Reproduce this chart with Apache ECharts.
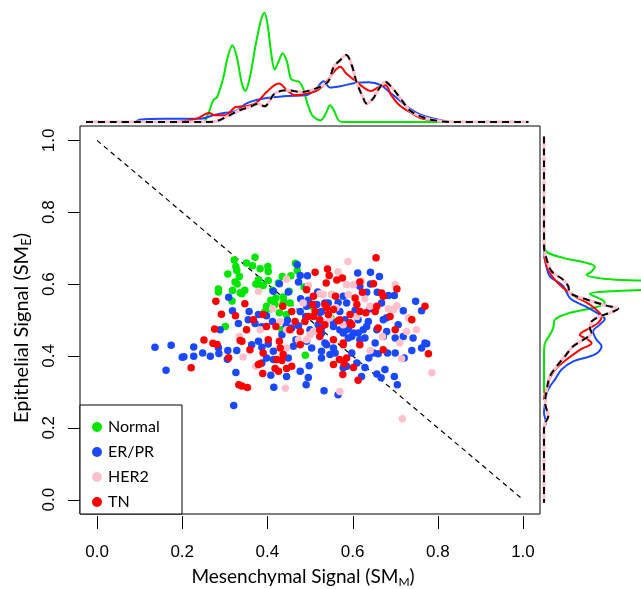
<!DOCTYPE html>
<html><head><meta charset="utf-8">
<script src="https://cdn.jsdelivr.net/npm/echarts@6/dist/echarts.min.js"></script>
<style>html,body{margin:0;padding:0;background:#fff}#c{width:641px;height:589px}</style>
</head><body><div id="c"></div>
<script>
const categories = ['Normal', 'ER/PR', 'HER2', 'TN'];
const colors = ['#00e600', '#1a48ff', '#ffc0cb', '#ff0000'];
const xTicks = [0, 0.2, 0.4, 0.6, 0.8, 1.0];
const yTicks = [0, 0.2, 0.4, 0.6, 0.8, 1.0];
const diagLine = [[0, 1], [1, 0]];

const normalPts = [[0.371,0.675],[0.322,0.667],[0.351,0.659],[0.365,0.651],[0.383,0.643],[0.401,0.649],[0.402,0.635],[0.326,0.649],[0.328,0.638],[0.307,0.628],[0.334,0.621],[0.435,0.621],[0.455,0.623],[0.466,0.658],[0.470,0.638],[0.324,0.606],[0.329,0.600],[0.379,0.612],[0.373,0.600],[0.381,0.596],[0.390,0.596],[0.402,0.610],[0.426,0.603],[0.285,0.586],[0.285,0.578],[0.318,0.582],[0.347,0.583],[0.340,0.573],[0.336,0.576],[0.412,0.583],[0.451,0.580],[0.437,0.564],[0.420,0.561],[0.317,0.553],[0.408,0.555],[0.398,0.538],[0.418,0.543],[0.437,0.547],[0.453,0.547],[0.408,0.531],[0.394,0.524],[0.428,0.520],[0.445,0.515],[0.301,0.482],[0.434,0.473],[0.489,0.402],[0.551,0.571],[0.549,0.506],[0.486,0.592],[0.504,0.538]];

const erprPts = [[0.136,0.424],[0.174,0.430],[0.162,0.360],[0.200,0.396],[0.204,0.398],[0.227,0.425],[0.227,0.399],[0.248,0.408],[0.266,0.399],[0.285,0.423],[0.286,0.407],[0.307,0.415],[0.306,0.391],[0.328,0.415],[0.326,0.354],[0.321,0.262],[0.289,0.473],[0.309,0.563],[0.318,0.526],[0.332,0.490],
[0.477,0.624],[0.494,0.623],[0.428,0.601],[0.473,0.606],[0.414,0.580],[0.449,0.578],[0.492,0.589],[0.518,0.578],[0.478,0.559],[0.496,0.555],[0.516,0.543],[0.357,0.524],[0.379,0.515],[0.398,0.512],[0.412,0.496],[0.447,0.499],[0.477,0.524],[0.490,0.510],[0.527,0.524],[0.543,0.547],[0.566,0.549],[0.570,0.524],[0.582,0.501],[0.355,0.501],[0.371,0.490],[0.387,0.481],[0.444,0.485],[0.457,0.478],[0.473,0.484],[0.519,0.487],[0.555,0.482],[0.570,0.473],[0.578,0.464],[0.500,0.473],[0.527,0.478],[0.470,0.654],
[0.612,0.631],[0.642,0.633],[0.663,0.621],[0.617,0.594],[0.633,0.577],[0.658,0.577],[0.684,0.568],[0.698,0.568],[0.586,0.547],[0.668,0.547],[0.748,0.552],[0.719,0.526],[0.762,0.526],[0.606,0.527],[0.641,0.531],[0.672,0.501],[0.680,0.506],[0.637,0.496],[0.613,0.501],[0.590,0.478],[0.625,0.473],[0.707,0.487],[0.680,0.468],[0.602,0.464],
[0.363,0.431],[0.379,0.441],[0.387,0.424],[0.402,0.433],[0.414,0.413],[0.398,0.394],[0.414,0.390],[0.387,0.380],[0.449,0.394],[0.445,0.343],[0.477,0.357],[0.498,0.373],[0.496,0.340],[0.491,0.320],[0.408,0.346],[0.415,0.313],[0.533,0.303],[0.566,0.292],[0.461,0.427],[0.492,0.441],[0.504,0.422],[0.527,0.413],[0.527,0.394],[0.547,0.404],[0.559,0.408],[0.578,0.367],[0.539,0.431],
[0.598,0.454],[0.617,0.445],[0.629,0.450],[0.653,0.436],[0.700,0.450],[0.719,0.454],[0.742,0.450],[0.770,0.436],[0.762,0.422],[0.739,0.415],[0.700,0.408],[0.682,0.408],[0.660,0.406],[0.649,0.408],[0.638,0.394],[0.721,0.394],[0.598,0.408],[0.610,0.380],[0.629,0.368],[0.586,0.371],[0.676,0.362],[0.657,0.350],[0.667,0.339],[0.698,0.343],[0.705,0.320],[0.621,0.343],[0.590,0.450],[0.774,0.434],
[0.642,0.600],[0.578,0.566],[0.535,0.547],[0.527,0.464],[0.535,0.436],[0.555,0.422],
[0.492,0.538],[0.523,0.520],[0.555,0.492],[0.586,0.473],[0.613,0.464],[0.633,0.482],[0.657,0.473],[0.672,0.454],[0.467,0.445],[0.434,0.459]];

const her2Pts = [[0.343,0.397],[0.373,0.371],[0.442,0.310],[0.334,0.454],[0.566,0.634],[0.445,0.614],[0.496,0.596],[0.523,0.573],[0.531,0.571],[0.551,0.571],[0.484,0.547],[0.561,0.534],[0.379,0.580],[0.412,0.531],[0.430,0.496],[0.445,0.473],[0.383,0.473],[0.547,0.506],[0.578,0.487],
[0.589,0.663],[0.586,0.598],[0.602,0.598],[0.621,0.608],[0.700,0.598],[0.704,0.540],[0.684,0.531],[0.590,0.571],[0.731,0.506],[0.750,0.473],[0.727,0.468],[0.629,0.559],
[0.473,0.445],[0.570,0.301],[0.445,0.422],[0.641,0.415],[0.715,0.392],[0.711,0.436],[0.786,0.353],[0.717,0.225],[0.670,0.454],[0.696,0.529],[0.508,0.468],[0.492,0.445],
[0.535,0.492],[0.610,0.510],[0.641,0.538],[0.500,0.459]];

const tnPts = [[0.279,0.552],[0.292,0.516],[0.325,0.512],[0.276,0.475],[0.251,0.444],[0.272,0.435],[0.282,0.432],[0.221,0.367],[0.309,0.395],[0.333,0.320],[0.340,0.316],[0.353,0.312],[0.389,0.351],[0.383,0.378],[0.336,0.443],
[0.512,0.633],[0.541,0.642],[0.545,0.624],[0.538,0.603],[0.563,0.611],[0.347,0.545],[0.367,0.501],[0.390,0.515],[0.436,0.538],[0.457,0.524],[0.496,0.510],[0.512,0.524],[0.523,0.501],[0.535,0.543],[0.543,0.515],[0.555,0.529],[0.351,0.473],[0.398,0.482],[0.420,0.482],[0.465,0.496],[0.488,0.496],[0.508,0.566],[0.506,0.543],[0.535,0.487],[0.477,0.468],[0.566,0.498],
[0.655,0.673],[0.623,0.577],[0.668,0.575],[0.672,0.566],[0.704,0.586],[0.770,0.538],[0.739,0.501],[0.653,0.524],[0.610,0.543],[0.617,0.524],[0.631,0.520],[0.594,0.515],[0.660,0.478],[0.688,0.510],[0.700,0.473],[0.598,0.487],[0.649,0.601],
[0.340,0.441],[0.359,0.417],[0.402,0.445],[0.428,0.441],[0.430,0.422],[0.390,0.408],[0.437,0.404],[0.422,0.390],[0.434,0.387],[0.379,0.376],[0.418,0.365],[0.426,0.357],[0.445,0.365],[0.457,0.371],[0.523,0.454],[0.569,0.390],[0.580,0.378],[0.555,0.376],
[0.617,0.431],[0.672,0.417],[0.778,0.406],[0.602,0.368],[0.613,0.332],[0.586,0.394],
[0.576,0.617],[0.617,0.606],[0.606,0.561],[0.657,0.538],[0.578,0.431],[0.577,0.348],[0.492,0.584],[0.539,0.534],[0.560,0.566],
[0.508,0.510],[0.570,0.501],[0.594,0.492],[0.555,0.445],[0.578,0.436],[0.523,0.473],[0.477,0.431],[0.453,0.473]];

// marginal density of SM_M (top): [SM_M, density]
const topNormal = [[0.253,0],[0.263,0.66],[0.273,1.43],[0.282,1.64],[0.297,2.96],[0.306,4.17],[0.318,5.04],[0.328,4.28],[0.340,2.52],[0.348,2.04],[0.359,2.96],[0.373,5.15],[0.385,6.69],[0.393,7.17],[0.400,6.47],[0.409,4.50],[0.417,3.44],[0.426,3.95],[0.436,4.50],[0.446,3.95],[0.455,2.85],[0.465,2.70],[0.475,2.63],[0.484,2.19],[0.494,1.21],[0.505,0.44],[0.518,0.15],[0.525,0.11],[0.537,0.55],[0.547,1.10],[0.556,0.77],[0.566,0.15],[0.576,0],[0.821,0]];
const topERPR = [[0.090,0],[0.100,0.15],[0.157,0.22],[0.244,0.22],[0.273,0.44],[0.297,0.59],[0.326,0.72],[0.350,1.21],[0.388,1.52],[0.446,1.71],[0.489,1.75],[0.513,2.13],[0.532,2.67],[0.547,2.26],[0.571,2.35],[0.609,2.57],[0.638,2.61],[0.667,2.41],[0.686,1.97],[0.710,1.43],[0.734,0.88],[0.763,0.44],[0.792,0.22],[0.821,0.04],[0.830,0]];
const topHER2 = [[-0.026,0],[0.253,0],[0.282,0.07],[0.311,0.44],[0.335,0.77],[0.359,0.99],[0.378,1.2],[0.393,1.03],[0.417,1.86],[0.446,2.08],[0.479,1.97],[0.513,2.19],[0.542,2.63],[0.556,3.62],[0.571,4.06],[0.585,4.39],[0.598,3.73],[0.609,2.63],[0.624,1.64],[0.633,1.21],[0.648,1.54],[0.662,2.19],[0.677,2.63],[0.691,2.30],[0.710,1.64],[0.734,0.77],[0.763,0.33],[0.792,0.11],[0.830,0],[1.013,0]];
const topTN = [[0.186,0],[0.234,0.22],[0.263,0.59],[0.277,0.44],[0.301,0.44],[0.326,0.99],[0.350,1.03],[0.374,1.25],[0.398,1.97],[0.427,2.52],[0.446,2.08],[0.465,1.75],[0.489,1.86],[0.518,2.08],[0.542,2.74],[0.556,3.29],[0.571,3.62],[0.585,3.18],[0.605,2.74],[0.624,2.30],[0.643,2.04],[0.662,2.30],[0.677,2.41],[0.691,1.75],[0.710,1.10],[0.734,0.66],[0.763,0.22],[0.802,0.07],[0.830,0]];

// marginal density of SM_E (right): [SM_E, density]
const rightNormal = [[0.75,0],[0.696,0.07],[0.673,1.27],[0.659,2.81],[0.648,3.36],[0.635,3.14],[0.626,2.81],[0.614,4.12],[0.605,7.0],[0.589,7.0],[0.580,4.34],[0.573,3.03],[0.557,3.80],[0.549,4.01],[0.536,3.47],[0.520,1.71],[0.501,0.72],[0.478,0.61],[0.459,0.39],[0.436,0.07],[0.408,0],[0.297,0]];
const rightERPR = [[0.691,0],[0.668,0.07],[0.645,0.18],[0.621,0.39],[0.608,0.84],[0.594,1.27],[0.561,1.71],[0.547,2.26],[0.534,2.91],[0.515,3.68],[0.503,4.01],[0.487,3.68],[0.468,3.24],[0.445,3.47],[0.427,3.80],[0.404,3.36],[0.385,1.93],[0.362,1.16],[0.334,0.72],[0.315,0.39],[0.297,0.18],[0.269,0.07],[0.241,0],[0.227,0.07],[0.213,0.13],[0.200,0]];
const rightHER2 = [[1.011,0],[0.705,0],[0.668,0.18],[0.635,0.51],[0.612,1.27],[0.594,1.60],[0.575,1.71],[0.557,2.81],[0.540,4.12],[0.531,4.89],[0.520,4.34],[0.510,3.68],[0.496,3.14],[0.478,3.03],[0.464,3.14],[0.445,2.59],[0.427,1.93],[0.399,1.38],[0.371,0.84],[0.343,0.39],[0.306,0.18],[0.269,0.07],[0.232,0.28],[0.213,0.07],[0.195,0],[-0.009,0]];
const rightTN = [[0.677,0],[0.640,0.28],[0.617,0.61],[0.589,1.27],[0.566,2.04],[0.543,3.03],[0.524,3.57],[0.510,3.80],[0.492,3.57],[0.478,3.03],[0.459,2.37],[0.445,2.91],[0.436,3.14],[0.417,2.37],[0.390,1.49],[0.367,0.84],[0.339,0.39],[0.320,0.28],[0.297,0.07],[0.278,0]];

const AX_MIN = -0.04, AX_MAX = 1.04;
const swap = arr => arr.map(p => [p[1], p[0]]);
const chart = echarts.init(document.getElementById('c'), null, {renderer: 'canvas'});
const FONT = 'Liberation Sans';
const TFONT = 'Lato';
function titleRich(size) {
  return {
    a: {fontSize: size, fontFamily: TFONT, fill: '#000', color: '#000', lineHeight: size + 3},
    b: {fontSize: Math.round(size * 0.63), fontFamily: TFONT, fill: '#000', color: '#000', verticalAlign: 'bottom', lineHeight: Math.round(size * 0.68)}
  };
}

function scatter(name, data, color) {
  return {name, type: 'scatter', xAxisIndex: 0, yAxisIndex: 0, data, symbolSize: 7.5,
    itemStyle: {color, opacity: 1}, emphasis: {disabled: true}, z: 2, animation: false};
}
function dens(name, data, color, idx, width, dashed, z) {
  return {name, type: 'line', xAxisIndex: idx, yAxisIndex: idx, data, showSymbol: false, symbol: 'none',
    smooth: 0.35, clip: true, lineStyle: {color, width, type: dashed ? [7, 5] : 'solid'}, z: z || 2,
    emphasis: {disabled: true}, animation: false, silent: true};
}

const option = {
  backgroundColor: '#fff',
  animation: false,
  grid: [
    {left: 80, right: 101, top: 126, bottom: 75, show: true, borderColor: '#000', borderWidth: 1, backgroundColor: 'transparent'},
    {left: 80, right: 101, top: 0, bottom: 467, show: false},
    {left: 544, right: 0, top: 126, bottom: 75, show: false}
  ],
  xAxis: [
    {gridIndex: 0, type: 'value', min: AX_MIN, max: AX_MAX, position: 'bottom',
     axisLine: {show: false}, splitLine: {show: false}, axisTick: {show: false},
     axisLabel: {customValues: xTicks, formatter: v => v.toFixed(1), fontSize: 17, color: '#000', fontFamily: FONT, margin: 30}},
    {gridIndex: 1, type: 'value', min: AX_MIN, max: AX_MAX, show: false},
    {gridIndex: 2, type: 'value', min: 0, max: 6.4, show: false}
  ],
  yAxis: [
    {gridIndex: 0, type: 'value', min: AX_MIN, max: AX_MAX, position: 'left',
     axisLine: {show: false}, splitLine: {show: false}, axisTick: {show: false},
     axisLabel: {customValues: yTicks, formatter: v => v.toFixed(1), fontSize: 17, color: '#000', fontFamily: FONT, margin: 22, rotate: 90}},
    {gridIndex: 1, type: 'value', min: 0, max: 8, show: false},
    {gridIndex: 2, type: 'value', min: AX_MIN, max: AX_MAX, show: false}
  ],
  legend: {
    data: categories.map(n => ({name: n, icon: 'circle'})),
    orient: 'vertical', left: 87, top: 414, itemWidth: 10, itemHeight: 10, itemGap: 9,
    selectedMode: false, z: 6,
    textStyle: {fontSize: 16, fontFamily: TFONT, color: '#000', lineHeight: 16, padding: [0, 0, 0, 1]}
  },
  series: [
    {type: 'line', xAxisIndex: 0, yAxisIndex: 0, data: diagLine, showSymbol: false, symbol: 'none',
     lineStyle: {color: '#000', width: 1.2, type: [5, 4]}, z: 1, silent: true, animation: false},
    scatter(categories[0], normalPts, colors[0]),
    scatter(categories[1], erprPts, colors[1]),
    scatter(categories[2], her2Pts, colors[2]),
    scatter(categories[3], tnPts, colors[3]),
    dens('topNormal', topNormal, colors[0], 1, 2),
    dens('topERPR', topERPR, colors[1], 1, 2),
    dens('topTN', topTN, colors[3], 1, 2),
    dens('topHER2', topHER2, colors[2], 1, 3, false, 3),
    dens('topHER2b', topHER2, '#000', 1, 2, true, 4),
    dens('rightNormal', swap(rightNormal), colors[0], 2, 2),
    dens('rightERPR', swap(rightERPR), colors[1], 2, 2),
    dens('rightTN', swap(rightTN), colors[3], 2, 2),
    dens('rightHER2', swap(rightHER2), colors[2], 2, 3, false, 3),
    dens('rightHER2b', swap(rightHER2), '#000', 2, 2, true, 4)
  ]
};
chart.setOption(option);

// axis ticks placed through the chart's own scales
const els = [
  {type: 'rect', shape: {x: 80, y: 405, width: 102, height: 109}, style: {fill: '#fff', stroke: '#000', lineWidth: 1}, z: 5, silent: true},
  {type: 'text', x: 22, y: 328, rotation: Math.PI / 2, z: 5, silent: true,
   style: {text: '{a|Epithelial Signal (SM}{b|E}{a|)}', rich: titleRich(20), align: 'center', verticalAlign: 'middle', fill: '#000'}},
  {type: 'text', x: 303, y: 577, z: 5, silent: true,
   style: {text: '{a|Mesenchymal Signal (SM}{b|M}{a|)}', rich: titleRich(19), align: 'center', verticalAlign: 'middle', fill: '#000'}}
];
xTicks.forEach(v => {
  const p = chart.convertToPixel({xAxisIndex: 0, yAxisIndex: 0}, [v, AX_MIN]);
  const x = Math.round(p[0]) + 0.5;
  els.push({type: 'line', shape: {x1: x, y1: p[1] + 2, x2: x, y2: p[1] + 15}, style: {stroke: '#000', lineWidth: 1}, z: 5, silent: true});
});
yTicks.forEach(v => {
  const p = chart.convertToPixel({xAxisIndex: 0, yAxisIndex: 0}, [AX_MIN, v]);
  const y = Math.round(p[1]) + 0.5;
  els.push({type: 'line', shape: {x1: Math.round(p[0]) - 12, y1: y, x2: Math.round(p[0]), y2: y}, style: {stroke: '#000', lineWidth: 1}, z: 5, silent: true});
});
chart.setOption({graphic: {elements: els}});
</script></body></html>
